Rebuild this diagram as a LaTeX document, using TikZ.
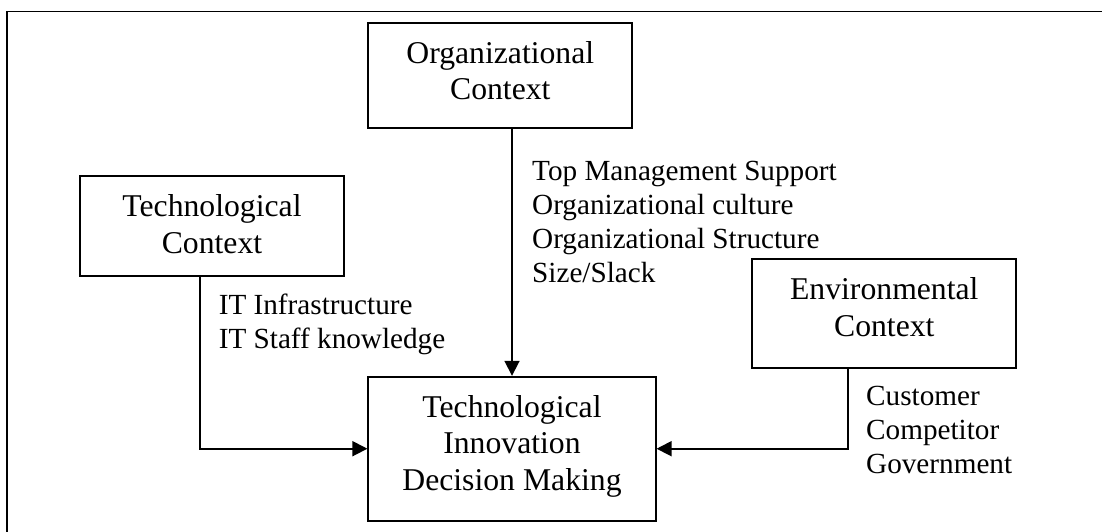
\documentclass[tikz,border=0pt]{standalone}
\usepackage{fontspec}
\setmainfont{Liberation Serif}
\usetikzlibrary{arrows.meta}
\begin{document}
\begin{tikzpicture}[x=1pt,y=-1pt,
  box/.style={draw, line width=1.8pt, rectangle, inner sep=0pt},
  boxtext/.style={font=\fontsize{31.7}{36.9}\selectfont, align=center, inner sep=0pt, anchor=north},
  lbl/.style={font=\fontsize{29.2}{34}\selectfont, align=left, inner sep=0pt, anchor=north west},
  arr/.style={line width=1.8pt, -{Triangle[length=15pt,width=15pt]}}]
\useasboundingbox (0,0) rectangle (1102,531);
\clip (0,0) rectangle (1102,531);
\draw[line width=1.5pt] (7,11.7) rectangle (1130,560);
% boxes
\node[box, minimum width=264pt, minimum height=105pt] (org) at (500.3,75.2) {};
\node[box, minimum width=264pt, minimum height=100.3pt] (tech) at (212,226) {};
\node[box, minimum width=264pt, minimum height=108.4pt] (env) at (884.3,313.5) {};
\node[box, minimum width=287.4pt, minimum height=144pt] (tidm) at (512,448.7) {};
% box texts
\node[boxtext] (orgt) at ([yshift=-19pt]org.north) {Organizational\\Context};
\node[boxtext] (techt) at ([yshift=-19pt]tech.north) {Technological\\Context};
\node[boxtext] (envt) at ([yshift=-19pt]env.north) {Environmental\\Context};
\node[boxtext] (tidmt) at ([yshift=-19pt]tidm.north) {Technological\\Innovation\\Decision Making};
% connectors
\coordinate (tc) at (200,449);
\coordinate (ec) at (848.3,449);
\draw[arr] (tidm.north |- org.south) -- (tidm.north);
\draw[arr] (tech.south -| tc) |- (tidm.west);
\draw[arr] (env.south -| ec) |- (tidm.east);
% labels
\node[lbl] (orgl) at (532,160.5) {Top Management Support\\Organizational culture\\Organizational Structure\\Size/Slack};
\node[lbl] (techl) at (218.6,293.3) {IT Infrastructure\\IT Staff knowledge};
\node[lbl] (envl) at (866,386) {Customer\\Competitor\\Government};
\end{tikzpicture}
\end{document}
